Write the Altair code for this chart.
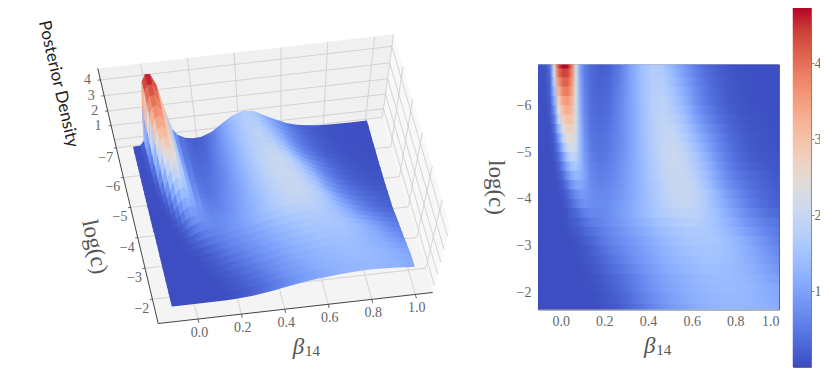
import numpy as np
import pandas as pd
import altair as alt

beta_cols = [-0.104,-.07,-.05,-.03,-.01,.01,.03,.05,.07,.09,.11,.14,.18,.22,.27,.32,.37,.42,.47,.52,.57,.62,.67,.72,.77,.82,.87,.92,.96,1.0]
logc_rows = [-6.87,-6.7,-6.5,-6.3,-6.1,-5.9,-5.7,-5.5,-5.3,-5.1,-4.9,-4.7,-4.5,-4.3,-4.1,-3.9,-3.7,-3.5,-3.3,-3.1,-2.9,-2.7,-2.5,-2.3,-2.1,-1.9,-1.64]

r01 = [.05,.08,.4,2.6,4.3,4.74,4.7,4.0,2.3,1.0,.55,.3,.18,.22,.5,1.0,1.45,1.7,1.6,1.2,.85,.52,.3,.18,.1,.06,.04,.03,.03,.03]
r02 = [.05,.07,.3,2.2,4.0,4.4,4.4,3.8,2.3,1.0,.55,.3,.2,.24,.53,1.0,1.45,1.72,1.65,1.28,.92,.58,.34,.2,.11,.06,.04,.03,.03,.03]
r03 = [.05,.06,.25,1.8,3.6,4.1,4.15,3.65,2.3,1.05,.55,.32,.22,.27,.56,1.0,1.42,1.73,1.72,1.38,1.0,.65,.39,.23,.13,.07,.05,.03,.03,.03]
r04 = [.04,.05,.2,1.4,3.2,3.8,3.9,3.5,2.3,1.1,.58,.33,.25,.3,.6,1.0,1.41,1.74,1.78,1.48,1.1,.72,.44,.26,.14,.08,.05,.04,.03,.03]
r05 = [.04,.05,.15,1.05,2.8,3.45,3.6,3.3,2.3,1.15,.6,.35,.28,.33,.63,1.0,1.4,1.75,1.83,1.57,1.2,.78,.48,.29,.15,.09,.05,.04,.03,.03]
r06 = [.03,.04,.12,.75,2.3,3.1,3.35,3.15,2.3,1.2,.65,.37,.31,.37,.65,1.0,1.39,1.74,1.87,1.66,1.32,.88,.56,.34,.19,.11,.06,.05,.04,.03]
r07 = [.03,.04,.09,.5,1.8,2.7,3.05,2.95,2.25,1.25,.7,.4,.34,.4,.66,1.0,1.38,1.73,1.9,1.76,1.45,1.0,.66,.42,.25,.14,.08,.06,.04,.04]
r08 = [.03,.03,.07,.33,1.3,2.25,2.75,2.75,2.2,1.3,.75,.42,.37,.43,.67,1.0,1.37,1.72,1.93,1.87,1.58,1.15,.8,.52,.31,.18,.1,.07,.05,.04]
r09 = [.03,.03,.05,.2,.85,1.8,2.4,2.5,2.1,1.35,.8,.45,.39,.46,.68,1.0,1.36,1.71,1.95,1.96,1.7,1.3,.93,.6,.37,.22,.13,.08,.06,.05]
r10 = [.03,.03,.04,.13,.55,1.35,2.0,2.25,2.0,1.35,.85,.5,.41,.49,.69,1.0,1.35,1.7,1.97,2.03,1.82,1.45,1.05,.68,.42,.25,.15,.09,.07,.06]
r11 = [.02,.03,.03,.08,.33,.9,1.55,1.9,1.85,1.35,.9,.55,.44,.52,.72,1.01,1.34,1.68,1.95,2.05,1.9,1.56,1.17,.78,.5,.31,.19,.12,.09,.07]
r12 = [.02,.02,.03,.05,.2,.58,1.1,1.5,1.6,1.3,.95,.6,.5,.56,.75,1.02,1.33,1.65,1.92,2.04,1.95,1.66,1.3,.88,.57,.37,.25,.16,.12,.09]
r13 = [.02,.02,.03,.04,.12,.35,.75,1.1,1.3,1.22,.98,.66,.55,.6,.78,1.03,1.32,1.62,1.88,2.02,1.98,1.74,1.4,.98,.66,.46,.32,.22,.17,.13]
r14 = [.02,.02,.03,.03,.07,.2,.47,.8,1.03,1.06,.94,.7,.6,.64,.8,1.04,1.31,1.58,1.84,2.0,2.0,1.82,1.5,1.08,.76,.55,.38,.27,.2,.16]
r15 = [.02,.02,.02,.03,.04,.1,.26,.5,.72,.85,.86,.74,.66,.68,.83,1.05,1.3,1.55,1.8,1.96,2.02,1.88,1.62,1.25,.9,.65,.45,.32,.24,.19]
r16 = [.02,.02,.02,.02,.03,.07,.16,.33,.52,.68,.76,.74,.7,.74,.88,1.08,1.3,1.53,1.75,1.92,1.98,1.88,1.65,1.32,1.0,.74,.52,.37,.28,.22]
r17 = [.02,.02,.02,.02,.03,.05,.1,.21,.3,.44,.56,.66,.66,.74,.9,1.08,1.3,1.5,1.68,1.8,1.86,1.8,1.65,1.4,1.12,.86,.64,.48,.38,.31]
r18 = [.02,.02,.02,.02,.02,.04,.07,.14,.19,.29,.4,.52,.6,.72,.86,1.03,1.2,1.36,1.52,1.65,1.72,1.73,1.62,1.45,1.22,.98,.78,.61,.5,.42]
r19 = [.02,.02,.02,.02,.02,.03,.05,.09,.12,.19,.27,.38,.52,.66,.78,.94,1.1,1.26,1.4,1.52,1.6,1.63,1.6,1.5,1.32,1.1,.9,.72,.58,.49]
r20 = [.02,.02,.02,.02,.02,.02,.03,.04,.07,.11,.17,.26,.42,.56,.7,.84,1.0,1.15,1.3,1.42,1.52,1.58,1.6,1.54,1.42,1.24,1.04,.84,.68,.57]
r21 = [.02,.02,.02,.02,.02,.02,.02,.03,.04,.07,.11,.18,.33,.47,.62,.78,.93,1.08,1.22,1.34,1.43,1.5,1.52,1.5,1.42,1.28,1.1,.92,.76,.66]
r22 = [.02,.02,.02,.02,.02,.02,.02,.02,.03,.05,.09,.14,.25,.38,.53,.7,.85,1.0,1.14,1.26,1.35,1.42,1.46,1.46,1.4,1.3,1.15,1.0,.85,.75]
r23 = [.02,.02,.02,.02,.02,.02,.02,.02,.02,.03,.06,.1,.18,.3,.44,.6,.76,.92,1.06,1.18,1.28,1.35,1.4,1.42,1.38,1.3,1.2,1.07,.95,.85]
r24 = [.02,.02,.02,.02,.02,.02,.02,.02,.02,.02,.04,.07,.12,.22,.35,.5,.67,.84,.98,1.1,1.2,1.28,1.34,1.38,1.38,1.32,1.25,1.14,1.03,.93]
r25 = [.02,.02,.02,.02,.02,.02,.02,.02,.02,.02,.03,.05,.09,.18,.3,.45,.62,.79,.94,1.06,1.16,1.24,1.3,1.35,1.37,1.34,1.28,1.2,1.12,1.04]
r26 = [.02,.02,.02,.02,.02,.02,.02,.02,.02,.02,.02,.03,.07,.14,.24,.38,.55,.72,.87,1.0,1.11,1.2,1.27,1.32,1.34,1.32,1.27,1.2,1.13,1.08]
r27 = [.02,.02,.02,.02,.02,.02,.02,.02,.02,.02,.02,.02,.05,.1,.18,.3,.45,.62,.78,.92,1.03,1.12,1.2,1.26,1.3,1.3,1.27,1.22,1.16,1.1]
density = [r01,r02,r03,r04,r05,r06,r07,r08,r09,r10,r11,r12,r13,r14,r15,r16,r17,r18,r19,r20,r21,r22,r23,r24,r25,r26,r27]

beta_ticks = [0.0,0.2,0.4,0.6,0.8,1.0]
logc_ticks = [-7,-6,-5,-4,-3,-2]
z_ticks = [1,2,3,4]
bar_ticks = [1,2,3,4]

stops = [(59,76,192),(77,104,215),(98,130,234),(119,154,247),(141,176,254),(163,194,255),(184,208,249),(204,217,238),
         (221,221,221),(236,211,197),(245,196,173),(247,177,148),(244,154,123),(236,127,99),(222,96,77),(203,62,56),(180,4,38)]
coolwarm = ['#%02x%02x%02x' % s for s in stops]
VMAX = 4.74
cscale = alt.Scale(domain=[float(d) for d in np.linspace(0, VMAX, len(coolwarm))], range=coolwarm, interpolate='rgb')
_pos = np.linspace(0, VMAX, len(stops))
_rgb = np.array(stops, dtype=float)

def colour(v):
    return '#%02x%02x%02x' % tuple(int(round(np.interp(v, _pos, _rgb[:, k]))) for k in range(3))

def gradient(offsets, values):
    pairs = sorted(zip(offsets, values))
    return alt.Gradient(gradient='linear', x1=0, y1=0, x2=1, y2=0,
                        stops=[alt.GradientStop(color=colour(v), offset=float(min(max(o, 0), 1))) for o, v in pairs])

# ---------- camera of the 3D panel, fitted to the box corners seen in the picture
U0, U1, V0, V1, W0, W1 = -0.183, 1.08, -7.0, -1.22, -0.15, 5.15
Z_TICK_SHIFT = 0.45
corner_world = [(U0,V0,W0),(U0,V1,W0),(U1,V1,W0),(U1,V0,W0),(U0,V0,W1),(U1,V0,W1),(U1,V1,W1)]
corner_page = [(115.7,150),(157.7,324.3),(433.3,291.7),(383,119),(99,68.3),(392.3,34.3),(450,230)]
A = []
for (x,y,z),(px,py) in zip(corner_world, corner_page):
    px, py = px/100, py/100
    A.append([x,y,z,1,0,0,0,0,-px*x,-px*y,-px*z,-px])
    A.append([0,0,0,0,x,y,z,1,-py*x,-py*y,-py*z,-py])
P = np.linalg.svd(np.array(A))[2][-1].reshape(3,4)

def proj(u, v, w):
    h = P @ np.array([u, v, w, 1.0])
    return [float(h[0]/h[2]*100 - 8), float(h[1]/h[2]*100 - 8)]

def line(pts):
    return {"type":"Feature","properties":{},"geometry":{"type":"LineString","coordinates":[proj(*p) for p in pts]}}

def poly(pts, z=0):
    c = [proj(*p) for p in pts]
    c.append(c[0])
    return {"type":"Feature","properties":{"z":z},"geometry":{"type":"Polygon","coordinates":[c]}}

W_LEFT, H_LEFT = 516, 360

def shape(features, **kw):
    return alt.Chart(alt.Data(values=features)).mark_geoshape(**kw).project(type='identity', scale=1, translate=[0,0])

back = shape([poly([(U0,V0,W0),(U1,V0,W0),(U1,V0,W1),(U0,V0,W1)])], fill='#f0f0f0', strokeWidth=0)
right = shape([poly([(U1,V0,W0),(U1,V1,W0),(U1,V1,W1),(U1,V0,W1)])], fill='#f8f8f8', strokeWidth=0)
floor = shape([poly([(U0,V0,W0),(U1,V0,W0),(U1,V1,W0),(U0,V1,W0)])], fill='#f4f4f4', strokeWidth=0)

grid = []
for b in beta_ticks:
    grid.append(line([(b,V1,W0),(b,V0,W0),(b,V0,W1)]))
for l in logc_ticks:
    grid.append(line([(U0,l,W0),(U1,l,W0),(U1,l,W1)]))
for z in [0] + z_ticks:
    zz = z + Z_TICK_SHIFT
    grid.append(line([(U0,V0,zz),(U1,V0,zz),(U1,V1,zz)]))
grid_layer = shape(grid, filled=False, stroke='#cfcfcf', strokeWidth=0.9)

axes_layer = shape([line([(U0,V0,W1),(U0,V0,W0),(U0,V1,W0),(U1,V1,W0)])], filled=False, stroke='#444444', strokeWidth=1)

# one strip of the surface per pair of neighbouring rows, far to near;
# each strip runs slightly under the next one so that no seam shows.
# Where the peak is so steep that the strip folds over, flat facets are drawn on top.
strips = []
n_rows = len(logc_rows)
PEAK_ROWS, PEAK_COLS = 14, 11
for j in range(n_rows-1):
    lap = 0.06 if j < n_rows-2 else 0.0
    top = [(b, logc_rows[j], z) for b, z in zip(beta_cols, density[j])]
    bot = [(b, logc_rows[j+1]+lap, z) for b, z in zip(beta_cols, density[j+1])]
    outline = top + bot[::-1]
    xs = [proj(*p)[0] for p in outline]
    xmin, xmax = min(xs), max(xs)
    mids = [(b, (logc_rows[j]+logc_rows[j+1])/2, (a+c)/2) for b, a, c in zip(beta_cols, density[j], density[j+1])]
    offs = [(proj(*m)[0]-xmin)/(xmax-xmin) for m in mids]
    vals = [m[2] for m in mids]
    strips.append(shape([poly(outline)], fill=gradient(offs, vals), strokeWidth=0))
    if j < PEAK_ROWS:
        facets = []
        for i in range(PEAK_COLS-1, -1, -1):
            a, b_, c, d = density[j][i], density[j][i+1], density[j+1][i+1], density[j+1][i]
            facets.append(poly([(beta_cols[i],logc_rows[j],a),(beta_cols[i+1],logc_rows[j],b_),
                                (beta_cols[i+1],logc_rows[j+1]+lap,c),(beta_cols[i],logc_rows[j+1]+lap,d)],
                               round((a+b_+c+d)/4, 3)))
        strips.append(alt.Chart(alt.Data(values=facets)).mark_geoshape(strokeWidth=0.3).encode(
            fill=alt.Fill('properties.z:Q', scale=cscale, legend=None),
            stroke=alt.Stroke('properties.z:Q', scale=cscale, legend=None),
        ).project(type='identity', scale=1, translate=[0,0]))

X_PX = alt.X('px:Q', scale=alt.Scale(domain=[0,W_LEFT], nice=False, zero=False), axis=None)
Y_PX = alt.Y('py:Q', scale=alt.Scale(domain=[H_LEFT,0], nice=False, zero=False), axis=None)

def labels(points, texts, **kw):
    rows = [{"px":p[0],"py":p[1],"t":t} for p,t in zip(points,texts)]
    return alt.Chart(pd.DataFrame(rows)).mark_text(baseline='middle', align='center', **kw).encode(x=X_PX, y=Y_PX, text='t:N')

tick_font = dict(font='Liberation Serif', fontSize=14, color='#666666')
beta_pts = [proj(b,V1,W0) for b in beta_ticks]
logc_pts = [proj(U0,l,W0) for l in logc_ticks]
z_pts = [proj(U0,V0,z+Z_TICK_SHIFT) for z in z_ticks]

ticks = []
for b in beta_ticks:
    ticks.append(line([(b,V1,W0),(b,V1+0.12,W0)]))
for l in logc_ticks:
    ticks.append(line([(U0,l,W0),(U0-0.012,l,W0)]))
for z in z_ticks:
    ticks.append(line([(U0,V0,z+Z_TICK_SHIFT),(U0-0.012,V0,z+Z_TICK_SHIFT)]))
tick_layer = shape(ticks, filled=False, stroke='#444444', strokeWidth=0.8)

beta_labels = labels(beta_pts, [f'{b:.1f}' for b in beta_ticks], dx=1.5, dy=14, **tick_font)
logc_labels = labels(logc_pts, [f'\u2212{abs(l)}' for l in logc_ticks], dx=-10.5, dy=10, **tick_font)
z_labels = labels(z_pts, [str(z) for z in z_ticks], dx=-13, dy=0, **tick_font)

title_z = labels([proj(U0,V0,4+Z_TICK_SHIFT)], ['Posterior Density'], dx=-5.5, dy=42, angle=77, font='Lato', fontSize=17, color='#222222')
title_l = labels([proj(U0,-4,W0)], ['log(c)'], dx=0, dy=44, angle=78, font='Liberation Serif', fontSize=23, color='#555555')
title_b = labels([proj(0.5,V1,W0)], ['\u03b2'], dx=-8, dy=40, font='Liberation Serif', fontStyle='italic', fontSize=23, color='#555555')
title_b2 = labels([proj(0.5,V1,W0)], ['14'], dx=6, dy=44, font='Liberation Serif', fontSize=15, color='#555555')

left = alt.layer(back, right, floor, grid_layer, *strips, axes_layer, tick_layer,
                 beta_labels, logc_labels, z_labels, title_z, title_l, title_b, title_b2
                 ).properties(width=W_LEFT, height=H_LEFT, view=alt.ViewBackground(strokeWidth=0))

# ---------- heat map: one band per row, with the row's read values as its colour stops
by = [logc_rows[0]] + [(a+b)/2 for a,b in zip(logc_rows[:-1],logc_rows[1:])] + [logc_rows[-1]]
xspan = beta_cols[-1]-beta_cols[0]
x_scale = alt.Scale(domain=[beta_cols[0],1.0], nice=False, zero=False)
y_scale = alt.Scale(domain=[-1.64,-6.87], nice=False, zero=False)
x_axis = alt.Axis(values=beta_ticks, format='.1f', grid=False, ticks=False, domain=False, labelPadding=5,
                  labelFont='Liberation Serif', labelFontSize=14, labelColor='#666666', title=None)
y_axis = alt.Axis(values=[-6,-5,-4,-3,-2], format='d', grid=False, ticks=False, domain=False, labelPadding=7,
                  labelFont='Liberation Serif', labelFontSize=14, labelColor='#666666',
                  title='log(c)', titleFont='Liberation Serif', titleFontSize=23, titleFontWeight='normal',
                  titleColor='#555555', titleAngle=90, titlePadding=33)
bands = []
for j in range(len(logc_rows)):
    g = gradient([(b-beta_cols[0])/xspan for b in beta_cols], density[j])
    lap = 0.04 if j < len(logc_rows)-1 else 0.0
    df = pd.DataFrame({'x0':[beta_cols[0]],'x1':[beta_cols[-1]],'y0':[by[j]],'y1':[by[j+1]+lap]})
    bands.append(alt.Chart(df).mark_rect(fill=g, strokeWidth=0).encode(
        x=alt.X('x0:Q', scale=x_scale, axis=x_axis),
        x2='x1:Q',
        y=alt.Y('y0:Q', scale=y_scale, axis=y_axis),
        y2='y1:Q'))
t_df = pd.DataFrame({'x':[0.5]})
heat_b = alt.Chart(t_df).transform_calculate(t="'\u03b2'").mark_text(font='Liberation Serif', fontStyle='italic', fontSize=23, color='#555555', dx=-20).encode(
    x=alt.X('x:Q', scale=x_scale, axis=x_axis), y=alt.value(281), text='t:N')
heat_b2 = alt.Chart(t_df).transform_calculate(t="'14'").mark_text(font='Liberation Serif', fontSize=15, color='#555555', dx=-6).encode(
    x=alt.X('x:Q', scale=x_scale, axis=x_axis), y=alt.value(285), text='t:N')
heat = alt.layer(*bands, heat_b, heat_b2).properties(width=241, height=245, view=alt.ViewBackground(stroke='#666666'))

# ---------- colour bar
bar_edges = np.linspace(0, VMAX, 181)
bar_df = pd.DataFrame({'y0':bar_edges[:-1],'y1':bar_edges[1:],'v':(bar_edges[:-1]+bar_edges[1:])/2})
bar = alt.Chart(bar_df).mark_rect(strokeWidth=0.5).encode(
    x=alt.value(0), x2=alt.value(18),
    y=alt.Y('y0:Q', scale=alt.Scale(domain=[0,VMAX], nice=False, zero=False),
            axis=alt.Axis(orient='right', values=bar_ticks, format='d', grid=False, domain=False, tickSize=3, tickColor='#888888',
                          labelPadding=0, labelFont='Liberation Serif', labelFontSize=14, labelColor='#666666', title=None)),
    y2='y1:Q',
    fill=alt.Fill('v:Q', scale=cscale, legend=None),
    stroke=alt.Stroke('v:Q', scale=cscale, legend=None),
).properties(width=18, height=360, view=alt.ViewBackground(stroke='#777777'))

chart = alt.hconcat(left, heat, bar, spacing=14, bounds='flush', center=True).properties(
    padding={"left": 0, "top": -2, "right": -2, "bottom": 0}, background='white')
chart.save("out.html", embed_options={"renderer": "svg", "actions": False})
